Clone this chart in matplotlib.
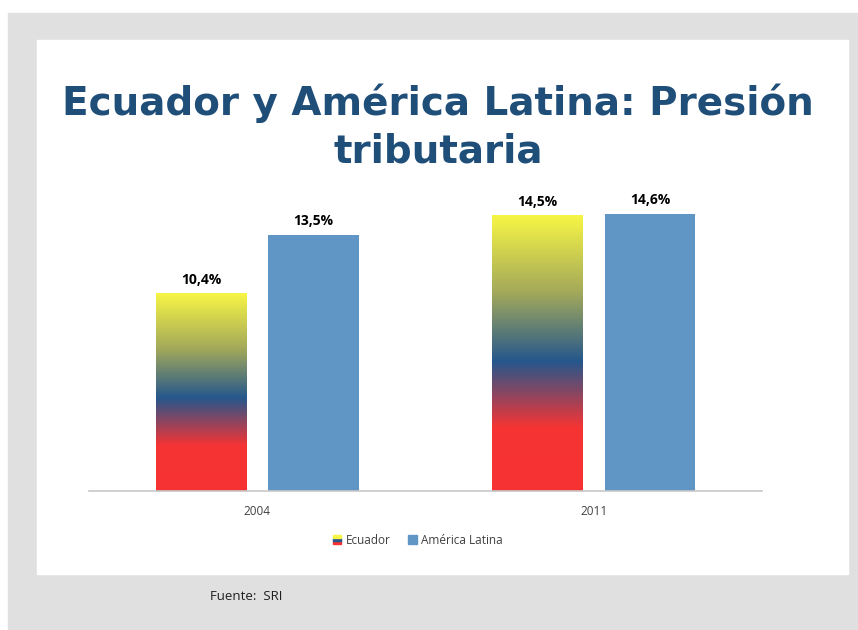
import matplotlib
matplotlib.use('Agg')
import matplotlib.pyplot as plt
import numpy as np
from matplotlib.colors import LinearSegmentedColormap
from matplotlib.patches import Rectangle
from matplotlib.legend_handler import HandlerBase

years = ['2004', '2011']
ecuador = [10.4, 14.5]
america_latina = [13.5, 14.6]
series_names = ['Ecuador', 'América Latina']
title = 'Ecuador y América Latina: Presión\ntributaria'
source = 'Fuente:  SRI'

W, H = 858, 630
fig = plt.figure(figsize=(W / 100, H / 100), dpi=100)


def px(x, y, w, h):
    # pixel box (top-left origin) -> figure fraction rect
    return (x / W, 1 - (y + h) / H, w / W, h / H)


def pct(v):
    return f'{v:.1f}%'.replace('.', ',')


# grey frame and white panel
r = px(8, 13, 850, 617)
fig.patches.append(Rectangle(r[:2], *r[2:], transform=fig.transFigure,
                             color='#e0e0e0', zorder=-2))
r = px(37, 40, 811, 534)
fig.patches.append(Rectangle(r[:2], *r[2:], transform=fig.transFigure,
                             color='white', zorder=-1))

flag = LinearSegmentedColormap.from_list(
    'flag', [(0.0, '#f83232'), (0.23, '#f53434'), (0.47, '#25578c'),
             (0.72, '#a3a95a'), (1.0, '#f7f545')])

ax = fig.add_axes(px(89, 187, 673, 304))
ax.set_facecolor('none')
x = np.arange(len(years))
width = 0.27
off = 0.167

grad = np.linspace(0, 1, 256).reshape(-1, 1)
for xi, v in zip(x, ecuador):
    x0 = xi - off - width / 2
    ax.imshow(grad, cmap=flag, origin='lower', aspect='auto',
              extent=(x0, x0 + width, 0, v), zorder=2)
    ax.text(xi - off, v + 0.35, pct(v), ha='center',
            va='bottom', fontsize=10, fontweight='bold', family='Open Sans')

ax.bar(x + off, america_latina, width, color='#6096c6', zorder=2)
for xi, v in zip(x, america_latina):
    ax.text(xi + off, v + 0.35, pct(v), ha='center',
            va='bottom', fontsize=10, fontweight='bold', family='Open Sans')

ax.set_xlim(-0.5, 1.5)
ax.set_ylim(0, 16)
ax.set_xticks(x)
ax.set_xticklabels(years, fontsize=8.5, color='#404040', family='Open Sans')
ax.tick_params(length=0, pad=10)
ax.set_yticks([])
for s in ['top', 'right', 'left']:
    ax.spines[s].set_visible(False)
ax.spines['bottom'].set_color('#c8c8c8')
ax.spines['bottom'].set_linewidth(1.2)


class FlagHandler(HandlerBase):
    def create_artists(self, legend, orig, xd, yd, w, h, fontsize, trans):
        cols = ['#f83232', '#25578c', '#f7f545']
        s = h
        x0 = xd + w - s
        return [Rectangle((x0, yd + i * s / 3), s, s / 3, color=c, transform=trans)
                for i, c in enumerate(cols)]


h1 = Rectangle((0, 0), 1, 1, color='#f83232')
h2 = Rectangle((0, 0), 1, 1, color='#6096c6')
fig.legend([h1, h2], series_names, handler_map={h1: FlagHandler()},
           loc='center', bbox_to_anchor=(418 / W, 1 - 540 / H), ncol=2,
           frameon=False, prop={'family': 'Open Sans', 'size': 8.5},
           handlelength=0.7, handleheight=0.7, handletextpad=0.4, columnspacing=1.5,
           labelcolor='#404040')

fig.text(438 / W, 1 - 127 / H, title, ha='center', va='center', fontsize=28,
         fontweight='bold', color='#1f4e79', linespacing=1.32)
fig.text(210 / W, 1 - 597 / H, source, ha='left', va='center', fontsize=9.5,
         family='Open Sans', color='#202020')

fig.savefig('out.png', dpi=100)
